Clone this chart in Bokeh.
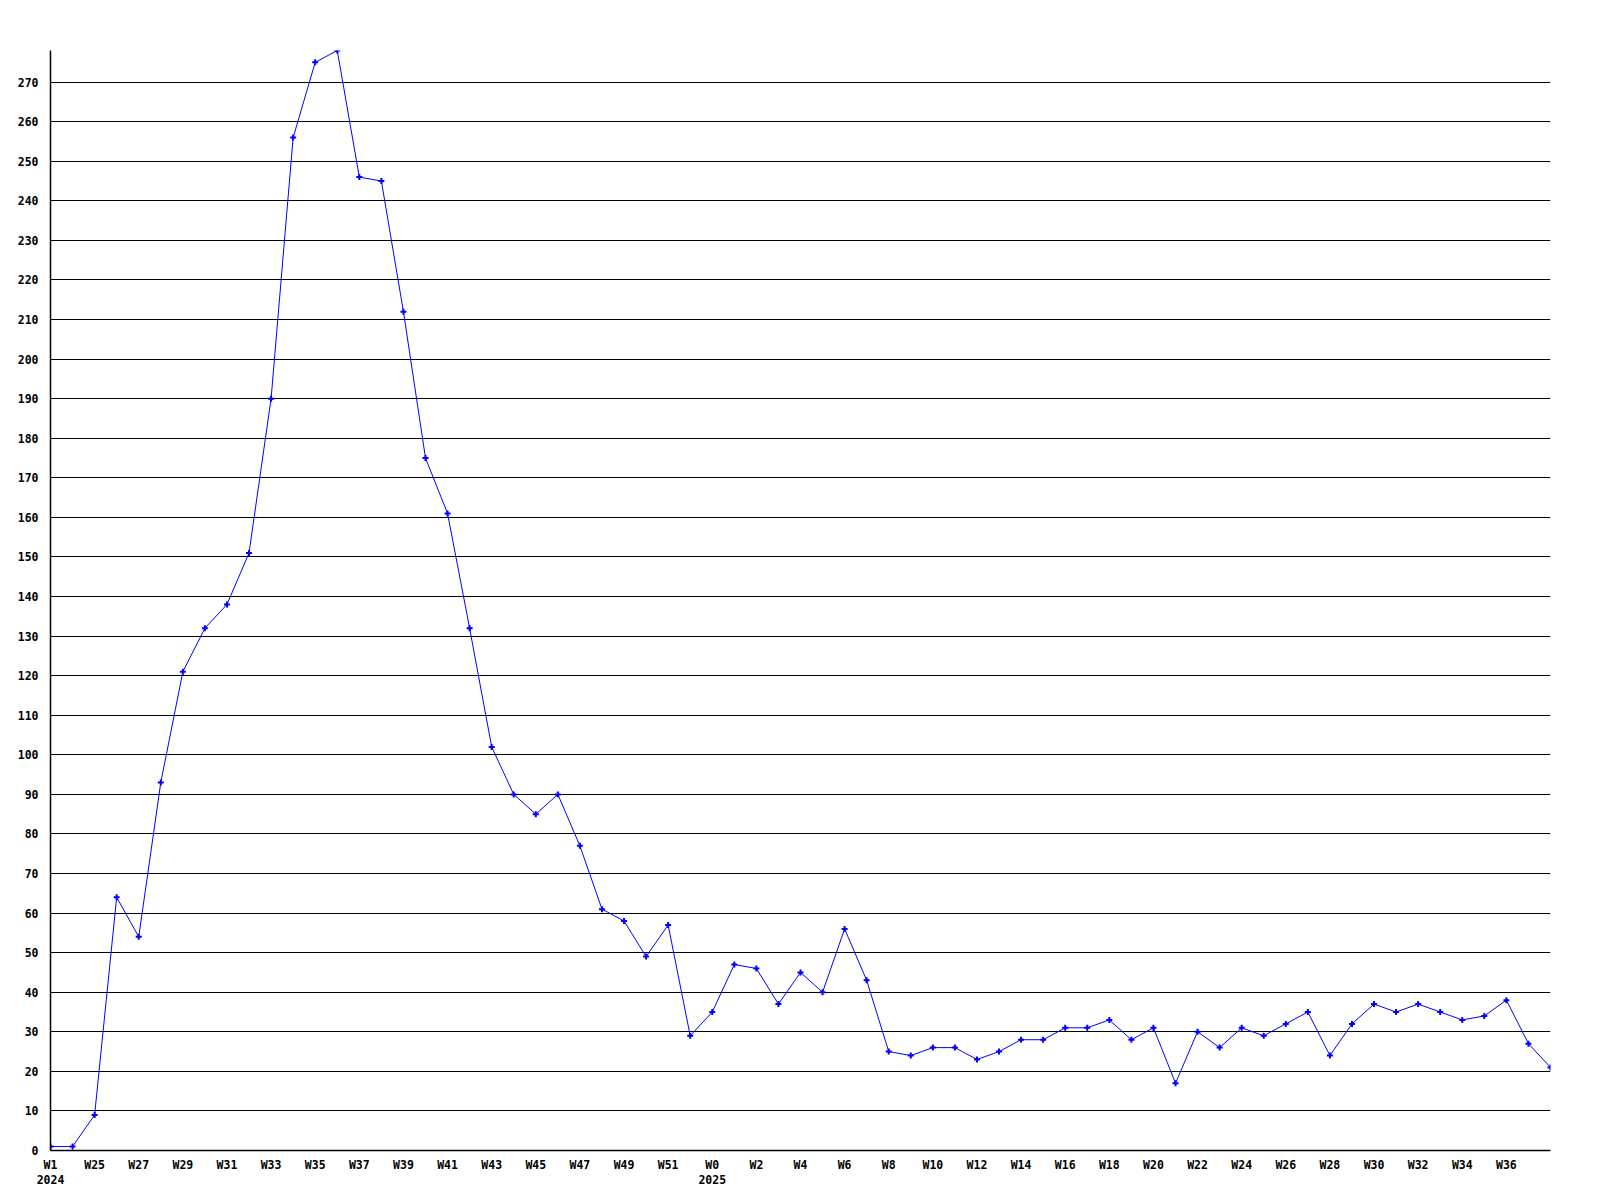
from bokeh.plotting import figure
from bokeh.models import Range1d, FixedTicker
from bokeh.embed import file_html
from bokeh.resources import INLINE

weeks = ["W1\n2024", "W24", "W25", "W26", "W27", "W28", "W29", "W30", "W31", "W32",
         "W33", "W34", "W35", "W36", "W37", "W38", "W39", "W40", "W41", "W42",
         "W43", "W44", "W45", "W46", "W47", "W48", "W49", "W50", "W51", "W52",
         "W0\n2025", "W1", "W2", "W3", "W4", "W5", "W6", "W7", "W8", "W9",
         "W10", "W11", "W12", "W13", "W14", "W15", "W16", "W17", "W18", "W19",
         "W20", "W21", "W22", "W23", "W24", "W25", "W26", "W27", "W28", "W29",
         "W30", "W31", "W32", "W33", "W34", "W35", "W36", "W37", "W38"]

values = [1, 1, 9, 64, 54, 93, 121, 132, 138, 151,
          190, 256, 275, 278, 246, 245, 212, 175, 161, 132,
          102, 90, 85, 90, 77, 61, 58, 49, 57, 29,
          35, 47, 46, 37, 45, 40, 56, 43, 25, 24,
          26, 26, 23, 25, 28, 28, 31, 31, 33, 28,
          31, 17, 30, 26, 31, 29, 32, 35, 24, 32,
          37, 35, 37, 35, 33, 34, 38, 27, 21]

y_ticks = list(range(0, 280, 10))

xs = list(range(len(values)))
label_idx = xs[:-1:2]

p = figure(frame_width=1500, frame_height=1100,
           min_border_left=50, min_border_top=50, min_border_right=10, min_border_bottom=10,
           x_range=Range1d(0, len(values) - 1), y_range=Range1d(0, 278),
           output_backend="svg", toolbar_location=None)
p.outline_line_color = None
p.background_fill_color = "white"

p.line(xs, values, line_color="#0000ff", line_width=1)
p.scatter(xs, values, marker="cross", size=6, line_color="#0000ff", line_width=2)

font = "DejaVu Sans Mono"
# x axis
p.xaxis.ticker = FixedTicker(ticks=label_idx)
p.xaxis.major_label_overrides = {i: weeks[i] for i in label_idx}
p.xaxis.major_label_text_font = font
p.xaxis.major_label_text_font_style = "bold"
p.xaxis.major_label_text_font_size = "11.5px"
p.xaxis.major_label_text_color = "black"
p.xaxis.major_tick_line_color = None
p.xaxis.minor_tick_line_color = None
p.xaxis.axis_line_color = "black"
p.xaxis.axis_line_width = 1.5
p.xaxis.major_label_standoff = 1
p.xaxis.major_label_text_line_height = 1.1

# y axis
p.yaxis.ticker = FixedTicker(ticks=y_ticks)
p.yaxis.major_label_text_font = font
p.yaxis.major_label_text_font_style = "bold"
p.yaxis.major_label_text_font_size = "11.5px"
p.yaxis.major_label_text_color = "black"
p.yaxis.major_tick_line_color = None
p.yaxis.minor_tick_line_color = None
p.yaxis.axis_line_color = "black"
p.yaxis.axis_line_width = 1.5
p.yaxis.major_label_standoff = 6

p.xgrid.grid_line_color = None
p.ygrid.grid_line_color = "black"
p.ygrid.grid_line_width = 1.2
p.ygrid.grid_line_alpha = 1.0

open("out.html", "w").write(file_html(p, INLINE))
